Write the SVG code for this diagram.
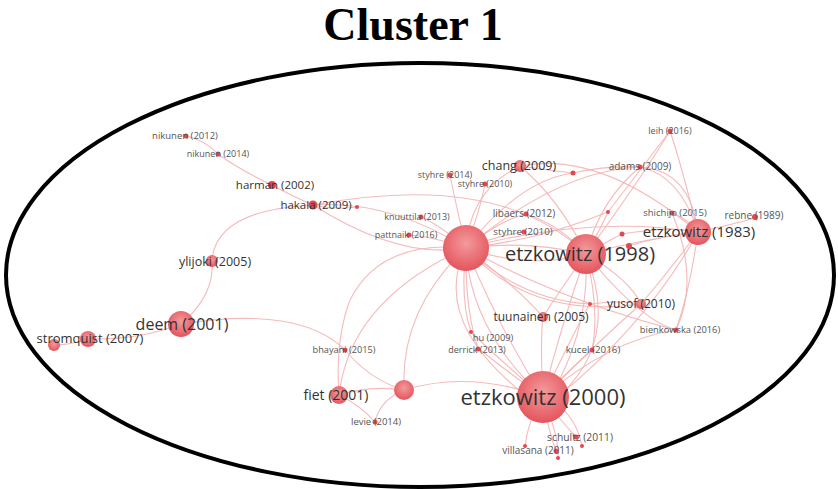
<svg xmlns="http://www.w3.org/2000/svg" width="838" height="489" viewBox="0 0 838 489">
  <defs>
    <radialGradient id="ball" cx="50%" cy="40%" r="60%">
      <stop offset="0" stop-color="#f39a9c"/>
      <stop offset="1" stop-color="#e4545c"/>
    </radialGradient>
    <style>
      .edge { fill: none; stroke: #f4b2b4; stroke-width: 1.1; opacity: 0.9; }
      .node { fill: url(#ball); }
      .dot { fill: #e3474f; }
      .lbl { font-family: "Open Sans", "Liberation Sans", sans-serif; fill: #333; text-anchor: middle; }
      .sm { fill: #555; }
      .title { font-family: "Liberation Serif", "Times New Roman", serif; font-weight: bold; font-size: 46px; fill: #000; text-anchor: middle; }
    </style>
  </defs>
  <rect width="838" height="489" fill="#fff"/>
  <text class="title" x="413" y="40">Cluster 1</text>
  <ellipse cx="420" cy="275" rx="414" ry="212" fill="none" stroke="#000" stroke-width="4"/>

  <g id="edges">
    <!-- hub links -->
    <path class="edge" d="M466,248 Q526,240 586,254"/>
    <path class="edge" d="M466,248 Q530,270 586,254"/>
    <path class="edge" d="M466,248 Q470,330 543,397"/>
    <path class="edge" d="M466,248 Q500,330 543,397"/>
    <path class="edge" d="M466,248 Q430,320 525,395"/>
    <path class="edge" d="M466,248 Q390,200 313,205"/>
    <path class="edge" d="M466,248 Q470,190 520,166"/>
    <path class="edge" d="M466,248 Q455,200 450,175"/>
    <path class="edge" d="M466,248 Q480,210 485,184"/>
    <path class="edge" d="M466,248 Q500,220 526,214"/>
    <path class="edge" d="M466,248 Q500,235 524,232"/>
    <path class="edge" d="M466,248 Q440,225 421,217"/>
    <path class="edge" d="M466,248 Q430,236 409,235"/>
    <path class="edge" d="M466,248 Q350,300 339,395"/>
    <path class="edge" d="M466,248 Q400,310 404,390"/>
    <path class="edge" d="M466,248 Q460,300 471,332"/>
    <path class="edge" d="M466,248 Q465,310 478,348"/>
    <path class="edge" d="M466,248 Q520,290 543,317"/>
    <path class="edge" d="M466,248 Q530,320 641,304"/>
    <path class="edge" d="M466,248 Q520,300 590,304"/>
    <path class="edge" d="M466,248 Q590,215 698,232"/>
    <path class="edge" d="M466,248 Q560,170 640,167"/>
    <path class="edge" d="M466,248 Q520,180 573,173"/>
    <path class="edge" d="M466,248 Q540,240 608,212"/>
    <path class="edge" d="M466,248 Q560,300 676,330"/>
    <!-- etzkowitz (1998) links -->
    <path class="edge" d="M586,254 Q560,330 543,397"/>
    <path class="edge" d="M586,254 Q590,330 550,397"/>
    <path class="edge" d="M586,254 Q620,340 560,395"/>
    <path class="edge" d="M586,254 Q640,240 698,232"/>
    <path class="edge" d="M586,254 Q630,280 641,304"/>
    <path class="edge" d="M586,254 Q560,290 543,317"/>
    <path class="edge" d="M586,254 Q600,310 592,350"/>
    <path class="edge" d="M586,254 Q640,180 670,131"/>
    <path class="edge" d="M586,254 Q600,200 640,167"/>
    <path class="edge" d="M586,254 Q600,230 608,212"/>
    <path class="edge" d="M586,254 Q610,240 622,234"/>
    <path class="edge" d="M586,254 Q560,200 520,166"/>
    <path class="edge" d="M586,254 Q560,225 526,214"/>
    <path class="edge" d="M586,254 Q640,320 676,330"/>
    <path class="edge" d="M586,254 Q500,170 313,205"/>
    <!-- etzkowitz (1983) links -->
    <path class="edge" d="M698,232 Q690,170 640,167"/>
    <path class="edge" d="M698,232 Q680,160 670,131"/>
    <path class="edge" d="M698,232 Q600,150 520,166"/>
    <path class="edge" d="M698,232 Q690,220 672,213"/>
    <path class="edge" d="M698,232 Q730,225 755,218"/>
    <path class="edge" d="M698,232 Q690,290 676,330"/>
    <path class="edge" d="M698,232 Q670,270 641,304"/>
    <path class="edge" d="M698,232 Q650,320 560,395"/>
    <path class="edge" d="M698,232 Q660,236 629,246"/>
    <path class="edge" d="M698,232 Q670,226 622,234"/>
    <!-- etzkowitz (2000) links -->
    <path class="edge" d="M543,397 Q470,370 404,390"/>
    <path class="edge" d="M543,397 Q540,340 543,317"/>
    <path class="edge" d="M543,397 Q600,340 641,304"/>
    <path class="edge" d="M543,397 Q580,360 592,350"/>
    <path class="edge" d="M543,397 Q610,340 676,330"/>
    <path class="edge" d="M543,397 Q500,360 471,332"/>
    <path class="edge" d="M543,397 Q505,370 478,348"/>
    <path class="edge" d="M543,397 Q580,320 590,304"/>
    <path class="edge" d="M543,397 Q560,420 576,437"/>
    <path class="edge" d="M543,397 Q548,430 556,451"/>
    <path class="edge" d="M543,397 Q528,420 525,446"/>
    <path class="edge" d="M543,397 Q560,440 558,458"/>
    <path class="edge" d="M543,397 Q575,410 582,446"/>
    <!-- left side chain -->
    <path class="edge" d="M181,324 Q300,305 345,350 Q370,380 404,390"/>
    <path class="edge" d="M181,324 Q215,295 212,261"/>
    <path class="edge" d="M212,261 Q215,210 313,205"/>
    <path class="edge" d="M181,324 Q140,340 88,339"/>
    <path class="edge" d="M88,339 Q70,345 54,345"/>
    <path class="edge" d="M313,205 Q290,195 272,185"/>
    <path class="edge" d="M272,185 Q240,170 218,154"/>
    <path class="edge" d="M218,154 Q205,140 186,136"/>
    <path class="edge" d="M313,205 Q335,210 357,207"/>
    <path class="edge" d="M313,205 Q400,260 466,248"/>
    <!-- lower middle -->
    <path class="edge" d="M339,395 Q370,385 404,390"/>
    <path class="edge" d="M404,390 Q380,400 375,422"/>
    <path class="edge" d="M339,395 Q360,405 375,422"/>
    <path class="edge" d="M339,395 Q335,340 350,300 Q380,240 466,248"/>
    <!-- upper right -->
    <path class="edge" d="M520,166 Q545,170 573,173 Q610,165 640,167 Q680,175 698,232"/>
    <path class="edge" d="M670,131 Q640,170 608,212"/>
    <path class="edge" d="M672,213 Q700,280 676,330"/>
    <path class="edge" d="M590,304 Q620,300 641,304"/>
  </g>

  <!-- large nodes -->
  <g id="hub"><circle class="node" cx="466" cy="248" r="23"/></g>
  <g id="etzkowitz-1998">
    <circle class="node" cx="586" cy="254" r="20"/>
    <text class="lbl" x="580" y="261" font-size="20">etzkowitz (1998)</text>
  </g>
  <g id="etzkowitz-2000">
    <circle class="node" cx="543" cy="397" r="26"/>
    <text class="lbl" x="543" y="405" font-size="22">etzkowitz (2000)</text>
  </g>
  <g id="etzkowitz-1983">
    <circle class="node" cx="698" cy="232" r="13"/>
    <text class="lbl" x="699" y="237" font-size="15">etzkowitz (1983)</text>
  </g>
  <g id="deem-2001">
    <circle class="node" cx="181" cy="324" r="13"/>
    <text class="lbl" x="182" y="330" font-size="16">deem (2001)</text>
  </g>
  <g id="stromquist-2007">
    <circle class="node" cx="88" cy="339" r="8"/>
    <circle class="node" cx="54" cy="345" r="6"/>
    <text class="lbl" x="90" y="343" font-size="13">stromquist (2007)</text>
  </g>
  <g id="ylijoki-2005">
    <circle class="node" cx="212" cy="261" r="6"/>
    <text class="lbl" x="215" y="266" font-size="12.5">ylijoki (2005)</text>
  </g>
  <g id="harman-2002">
    <circle class="dot" cx="272" cy="185" r="4"/>
    <text class="lbl" x="275" y="189" font-size="11.5">harman (2002)</text>
  </g>
  <g id="hakala-2009">
    <circle class="dot" cx="313" cy="205" r="4.5"/>
    <text class="lbl" x="316" y="209" font-size="11.5">hakala (2009)</text>
  </g>
  <g id="chang-2009">
    <circle class="node" cx="520" cy="166" r="6"/>
    <text class="lbl" x="519" y="170" font-size="12.5">chang (2009)</text>
  </g>
  <g id="tuunainen-2005">
    <circle class="node" cx="543" cy="317" r="5"/>
    <text class="lbl" x="541" y="321" font-size="12">tuunainen (2005)</text>
  </g>
  <g id="yusof-2010">
    <circle class="node" cx="641" cy="304" r="5"/>
    <text class="lbl" x="641" y="308" font-size="12">yusof (2010)</text>
  </g>
  <g id="fiet-2001">
    <circle class="node" cx="339" cy="395" r="9"/>
    <text class="lbl" x="336" y="400" font-size="14">fiet (2001)</text>
  </g>
  <g id="unlabelled-node"><circle class="node" cx="404" cy="390" r="10"/></g>

  <!-- small nodes -->
  <g id="nikunen-2012">
    <circle class="dot" cx="186" cy="136" r="2.5"/>
    <text class="lbl sm" x="185" y="139" font-size="9.5">nikunen (2012)</text>
  </g>
  <g id="nikunen-2014">
    <circle class="dot" cx="218" cy="154" r="2.5"/>
    <text class="lbl sm" x="218" y="157" font-size="9">nikunen (2014)</text>
  </g>
  <g id="knuuttila-2013">
    <circle class="dot" cx="421" cy="217" r="2.5"/>
    <text class="lbl sm" x="417" y="220" font-size="9">knuuttila (2013)</text>
  </g>
  <g id="pattnaik-2016">
    <circle class="dot" cx="409" cy="235" r="2.5"/>
    <text class="lbl sm" x="406" y="238" font-size="9">pattnaik (2016)</text>
  </g>
  <g id="styhre-2014">
    <circle class="dot" cx="450" cy="175" r="2.5"/>
    <text class="lbl sm" x="445" y="178" font-size="9">styhre (2014)</text>
  </g>
  <g id="styhre-2010a">
    <circle class="dot" cx="485" cy="184" r="2.5"/>
    <text class="lbl sm" x="485" y="187" font-size="9">styhre (2010)</text>
  </g>
  <g id="libaers-2012">
    <circle class="dot" cx="526" cy="214" r="2.5"/>
    <text class="lbl sm" x="524" y="217" font-size="10">libaers (2012)</text>
  </g>
  <g id="styhre-2010b">
    <circle class="dot" cx="524" cy="232" r="2.5"/>
    <text class="lbl sm" x="523" y="235" font-size="9.8">styhre (2010)</text>
  </g>
  <g id="adams-2009">
    <circle class="dot" cx="640" cy="167" r="2.5"/>
    <text class="lbl sm" x="640" y="170" font-size="10">adams (2009)</text>
  </g>
  <g id="leih-2016">
    <circle class="dot" cx="670" cy="131" r="2.5"/>
    <text class="lbl sm" x="670" y="134" font-size="9">leih (2016)</text>
  </g>
  <g id="shichijo-2015">
    <circle class="dot" cx="672" cy="213" r="2.5"/>
    <text class="lbl sm" x="675" y="216" font-size="9.5">shichijo (2015)</text>
  </g>
  <g id="rebne-1989">
    <circle class="dot" cx="755" cy="217" r="3"/>
    <text class="lbl sm" x="754" y="219" font-size="10">rebne (1989)</text>
  </g>
  <g id="bienkowska-2016">
    <circle class="dot" cx="676" cy="330" r="2.5"/>
    <text class="lbl sm" x="680" y="333" font-size="9.3">bienkowska (2016)</text>
  </g>
  <g id="hu-2009">
    <circle class="dot" cx="471" cy="332" r="2"/>
    <text class="lbl sm" x="493" y="340.5" font-size="9.3">hu (2009)</text>
  </g>
  <g id="derrick-2013">
    <circle class="dot" cx="478" cy="349" r="2.5"/>
    <text class="lbl sm" x="477" y="353" font-size="9">derrick (2013)</text>
  </g>
  <g id="kucel-2016">
    <circle class="dot" cx="592" cy="350" r="2.5"/>
    <text class="lbl sm" x="593" y="353" font-size="9.8">kucel (2016)</text>
  </g>
  <g id="bhayani-2015">
    <circle class="dot" cx="345" cy="350" r="2.5"/>
    <text class="lbl sm" x="344" y="353" font-size="9.2">bhayani (2015)</text>
  </g>
  <g id="levie-2014">
    <circle class="dot" cx="375" cy="422" r="2.5"/>
    <text class="lbl sm" x="376" y="425" font-size="9.5">levie (2014)</text>
  </g>
  <g id="schultz-2011">
    <circle class="dot" cx="576" cy="437" r="2.5"/>
    <text class="lbl sm" x="580" y="441" font-size="10.3">schultz (2011)</text>
  </g>
  <g id="villasana-2011">
    <circle class="dot" cx="556" cy="451" r="2.5"/>
    <text class="lbl sm" x="538" y="454" font-size="10">villasana (2011)</text>
  </g>
  <!-- unlabelled small nodes -->
  <g id="minor-nodes">
    <circle class="dot" cx="357" cy="207" r="2"/>
    <circle class="dot" cx="573" cy="173" r="2.5"/>
    <circle class="dot" cx="608" cy="212" r="2"/>
    <circle class="dot" cx="622" cy="234" r="2.5"/>
    <circle class="dot" cx="629" cy="246" r="3"/>
    <circle class="dot" cx="590" cy="304" r="2"/>
    <circle class="dot" cx="525" cy="446" r="2"/>
    <circle class="dot" cx="558" cy="458" r="2"/>
    <circle class="dot" cx="582" cy="446" r="2"/>
  </g>
</svg>
